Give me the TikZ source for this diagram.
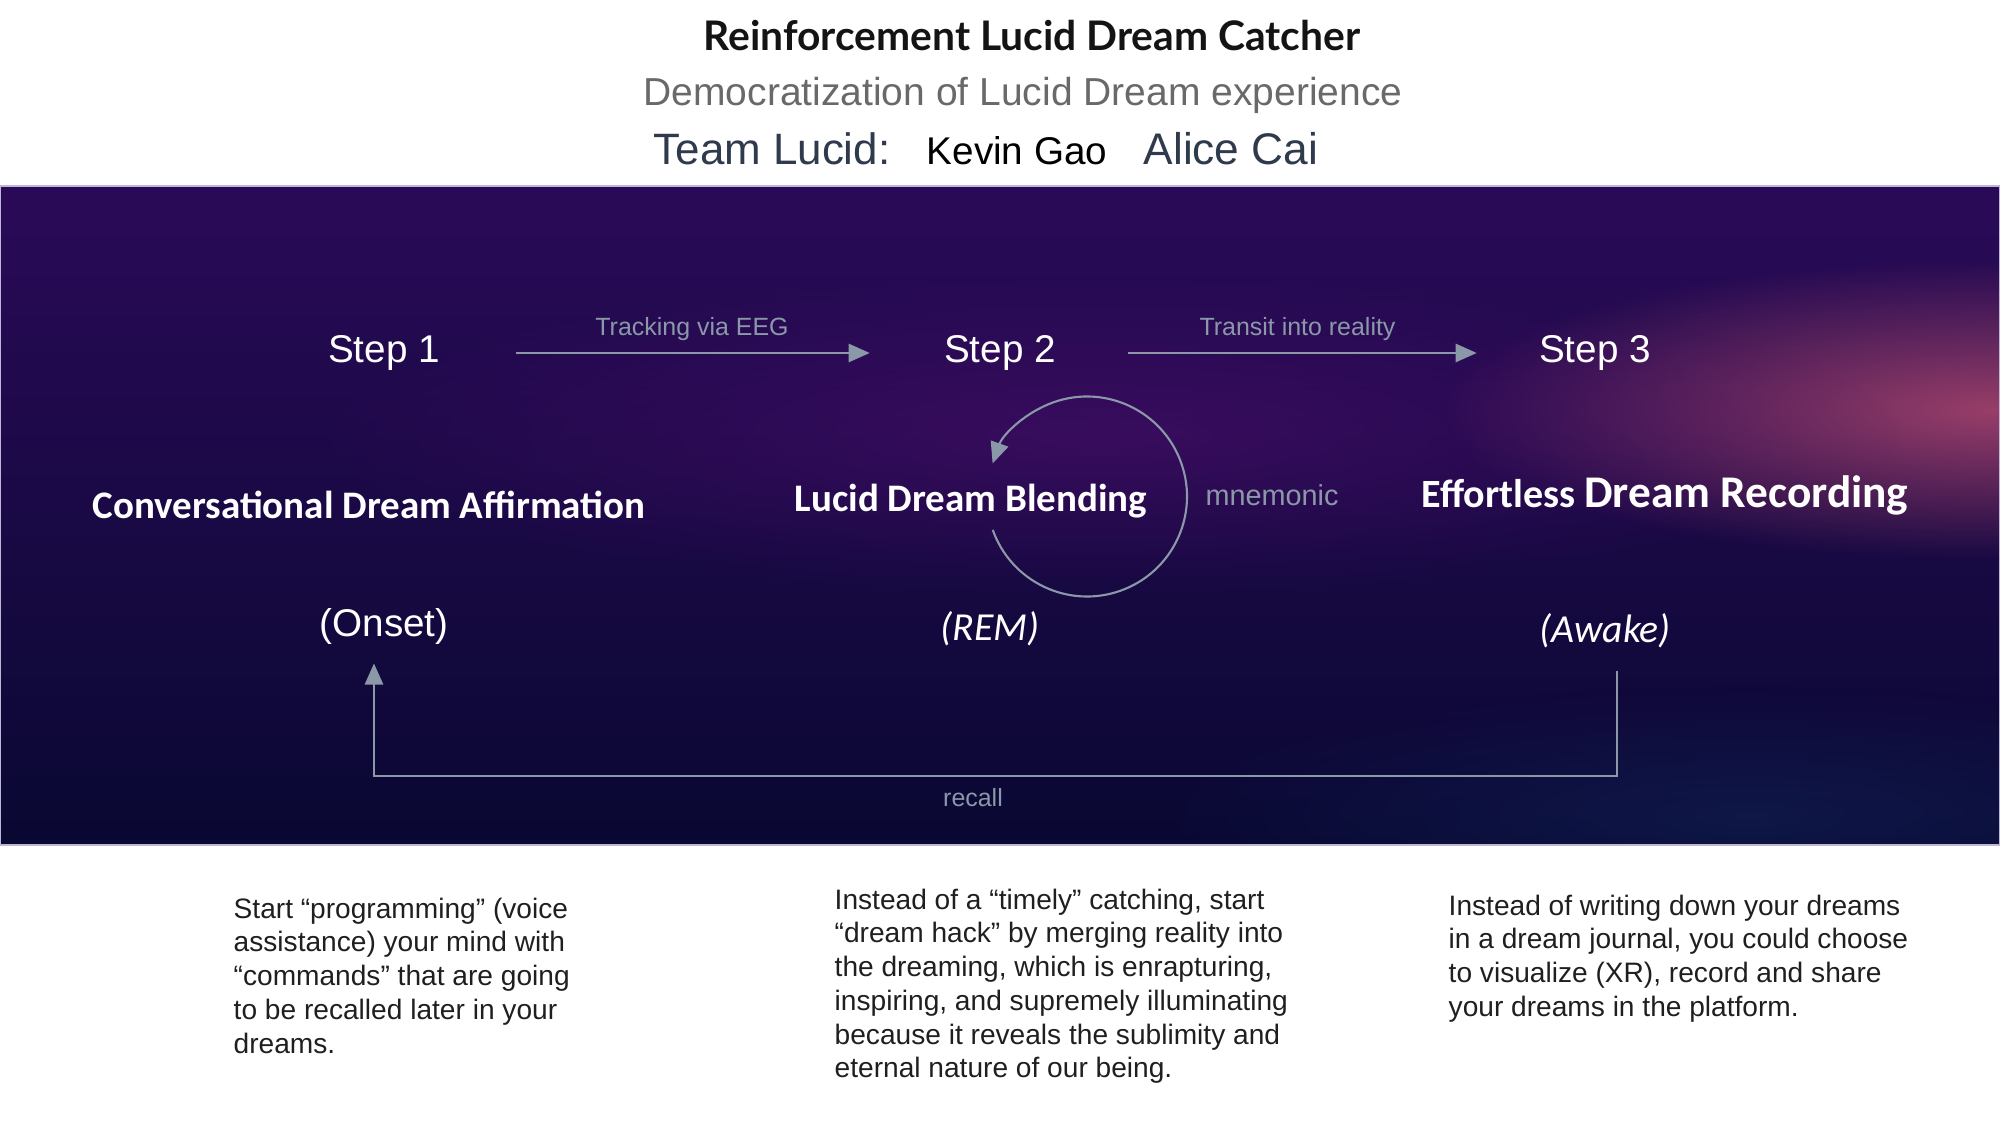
\documentclass[tikz,border=0pt]{standalone}
\usepackage{fontspec}
\setmainfont{Liberation Sans}
\newfontfamily\calibri{Carlito}
\newfontfamily\headfont{Lato}
\usetikzlibrary{arrows.meta,positioning,fadings}
\tikzfading[name=softglow, inner color=transparent!0, outer color=transparent!100]
\definecolor{linkgray}{RGB}{138,152,168}
\definecolor{slate}{RGB}{47,58,76}
\definecolor{subgray}{RGB}{105,105,105}
\definecolor{skytop}{RGB}{42,10,88}
\definecolor{skymid}{RGB}{70,24,100}
\definecolor{skybot}{RGB}{9,8,50}
\definecolor{glow}{RGB}{165,68,108}
\definecolor{deepblue}{RGB}{16,30,80}
\tikzset{every node/.style={align=center}, >={Triangle[length=6pt,width=5.2pt,fill=linkgray]},
  stepnode/.style={text=white, font=\fontsize{11}{13}\selectfont},
  phase/.style={text=white, font=\calibri\bfseries\fontsize{11.1}{13}\selectfont},
  sleepstate/.style={text=white, font=\calibri\itshape\fontsize{11.3}{13}\selectfont},
  link/.style={draw=linkgray, line width=0.6pt},
  linklabel/.style={text=linkgray, font=\fontsize{7.1}{8.5}\selectfont},
  note/.style={align=left, anchor=north west, inner sep=0pt, text=black!88, font=\fontsize{8}{9.6}\selectfont}}

\begin{document}
\begin{tikzpicture}
\useasboundingbox (0,0) rectangle (20,11.25);
% header
\node[font=\headfont\bfseries\fontsize{11.6}{13}\selectfont, text=black!92] (title) at (10.32,10.89) {Reinforcement Lucid Dream Catcher};
\node[font=\fontsize{11.1}{13}\selectfont, text=subgray] (sub) at (10.23,10.30) {Democratization of Lucid Dream experience};
\node[font=\fontsize{12.5}{14}\selectfont, text=slate, anchor=base] (team) at (7.72,9.60) {Team Lucid:};
\node[font=\fontsize{11}{13}\selectfont, anchor=base] (kg) at (10.17,9.60) {Kevin Gao};
\node[font=\fontsize{12.6}{14}\selectfont, text=slate, anchor=base] (ac) at (12.31,9.60) {Alice Cai};

% panel
\shade[top color=skytop, middle color=skymid, bottom color=skybot] (0,2.80) rectangle (20,9.39);
\begin{scope}
  \clip (0,2.80) rectangle (20,9.39);
  \fill[glow, path fading=softglow, opacity=0.9] (19.9,7.15) ellipse [x radius=5.5cm, y radius=1.5cm];
  \fill[skymid!80!magenta, path fading=softglow, opacity=0.35] (11,6.9) ellipse [x radius=8cm, y radius=1.6cm];
  \fill[deepblue, path fading=softglow, opacity=0.7] (17.5,3.1) ellipse [x radius=6cm, y radius=1.3cm];
\end{scope}
\draw[draw={rgb,255:red,190;green,182;blue,215}, line width=0.5pt] (0,2.80) rectangle (20,9.39);

% steps
\node[stepnode] (s1) at (3.84,7.72) {Step 1};
\node[stepnode] (s2) at (10.0,7.72) {Step 2};
\node[stepnode] (s3) at (15.95,7.72) {Step 3};
\path[->, link] (s1) edge [shorten <=0.64cm, shorten >=0.62cm] node [linklabel, above] {Tracking via EEG} (s2)
    (s2) edge [shorten <=0.6cm, shorten >=0.5cm] node [linklabel, above] {Transit into reality} (s3);

% phases
\node[phase] (cda) at (3.69,6.20) {Conversational Dream Affirmation};
\node[phase] (ldb) at (9.71,6.24) {Lucid Dream Blending};
\node[phase, font=\calibri\bfseries\fontsize{11.4}{13}\selectfont] (edr) at (16.65,6.30) {Effortless {\fontsize{12.9}{14}\selectfont Dream Recording}};

% sleep stages
\node[stepnode] (on) at (3.84,4.99) {(Onset)};
\node[sleepstate] (rem) at (9.90,4.96) {(REM)};
\node[sleepstate] (aw) at (16.05,4.94) {(Awake)};

% mnemonic loop
\coordinate (lp) at (10.87,6.285);
\draw[->, link] (lp) ++(199.5:1.0) arc [start angle=199.5, end angle=520.7, radius=1.0];
\node[linklabel, font=\fontsize{8.2}{10}\selectfont] (mn) at (12.72,6.30) {mnemonic};

% recall
\coordinate (rc) at (9.73,3.49);
\draw[->, link, shorten <=3pt, shorten >=2pt] ([xshift=0.12cm]aw.south) |- (rc) node [linklabel, below] (rl) {recall} -| ([xshift=-0.1cm]on.south);

% notes
\node[note] (n1) at (2.33,2.28) {Start “programming” (voice\\assistance) your mind with\\“commands” that are going\\to be recalled later in your\\dreams.};
\node[note] (n2) at (8.34,2.37) {Instead of a “timely” catching, start\\“dream hack” by merging reality into\\the dreaming, which is enrapturing,\\inspiring, and supremely illuminating\\because it reveals the sublimity and\\eternal nature of our being.};
\node[note] (n3) at (14.48,2.31) {Instead of writing down your dreams\\in a dream journal, you could choose\\to visualize (XR), record and share\\your dreams in the platform.};
\end{tikzpicture}
\end{document}
